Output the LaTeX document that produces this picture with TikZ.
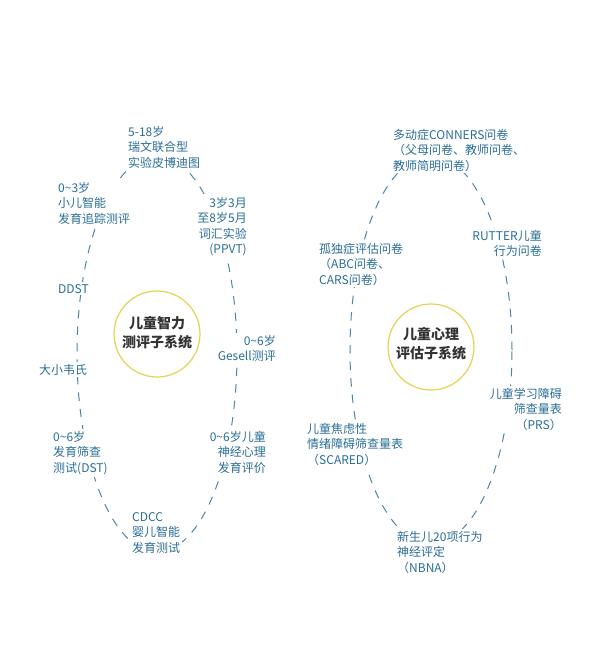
\documentclass[tikz,border=0pt]{standalone}
\usepackage{fontspec}
\setmainfont{Noto Sans CJK SC}
\definecolor{tblue}{HTML}{2A6E96}
\definecolor{dblue}{HTML}{4A86A8}
\definecolor{cyel}{HTML}{E6D352}
\definecolor{tdark}{HTML}{333333}
\begin{document}
\begin{tikzpicture}[x=1pt,y=-1pt,
  lbl/.style={font=\fontsize{12}{15.5}\selectfont, text=tblue, fill=white, inner sep=2pt},
  lblL/.style={lbl, align=left, anchor=north west},
  lblR/.style={lbl, align=right, anchor=north east},
  ring/.style={draw=dblue, line width=1pt, dash pattern=on 8.5pt off 8pt},
  hub/.style={circle, draw=cyel, line width=1.2pt, minimum size=86pt, inner sep=0pt},
  hubtext/.style={font=\bfseries\fontsize{14}{19}\selectfont, text=tdark, align=center}]
\useasboundingbox (0,0) rectangle (600,664);
\fill[white] (0,0) rectangle (600,664);
% rings
\draw[ring] (157,354) ellipse [x radius=80pt, y radius=198pt];
\draw[ring] (431,350) ellipse [x radius=81pt, y radius=194pt];
% hubs
\node[hub] (hubL) at (157,334) {};
\node[hubtext] (hubLt) at (157,333) {儿童智力\\测评子系统};
\node[hub] (hubR) at (431,347) {};
\node[hubtext] (hubRt) at (431,344) {儿童心理\\评估子系统};
% left labels
\node[lblL] (a1) at (126,124) {5-18岁\\瑞文联合型\\实验皮博迪图};
\node[lblL] (a2) at (56,180) {0\textasciitilde3岁\\小儿智能\\发育追踪测评};
\node[lblR] (a3) at (249,195) {3岁3月\\至8岁5月\\词汇实验\\(PPVT)};
\node[lblL] (a4) at (56,282) {DDST};
\node[lblR] (a5) at (278,333) {0\textasciitilde6岁\\Gesell测评};
\node[lblL] (a6) at (37,362) {大小韦氏};
\node[lblL] (a7) at (51,429) {0\textasciitilde6岁\\发育筛查\\测试(DST)};
\node[lblR] (a8) at (268,429) {0\textasciitilde6岁儿童\\神经心理\\发育评价};
\node[lblL] (a9) at (130,510) {CDCC\\婴儿智能\\发育测试};
% right labels
\node[lblL] (b1) at (391,127) {多动症CONNERS问卷\\（父母问卷、教师问卷、\\教师简明问卷）};
\node[lblL] (b2) at (317,241) {孤独症评估问卷\\（ABC问卷、\\CARS问卷）};
\node[lblR] (b3) at (544,228) {RUTTER儿童\\行为问卷};
\node[lblR] (b4) at (564,386) {儿童学习障碍\\筛查量表\\（PRS）};
\node[lblL] (b5) at (305,421) {儿童焦虑性\\情绪障碍筛查量表\\（SCARED）};
\node[lblL] (b6) at (395,529) {新生儿20项行为\\神经评定\\（NBNA）};
\end{tikzpicture}
\end{document}
